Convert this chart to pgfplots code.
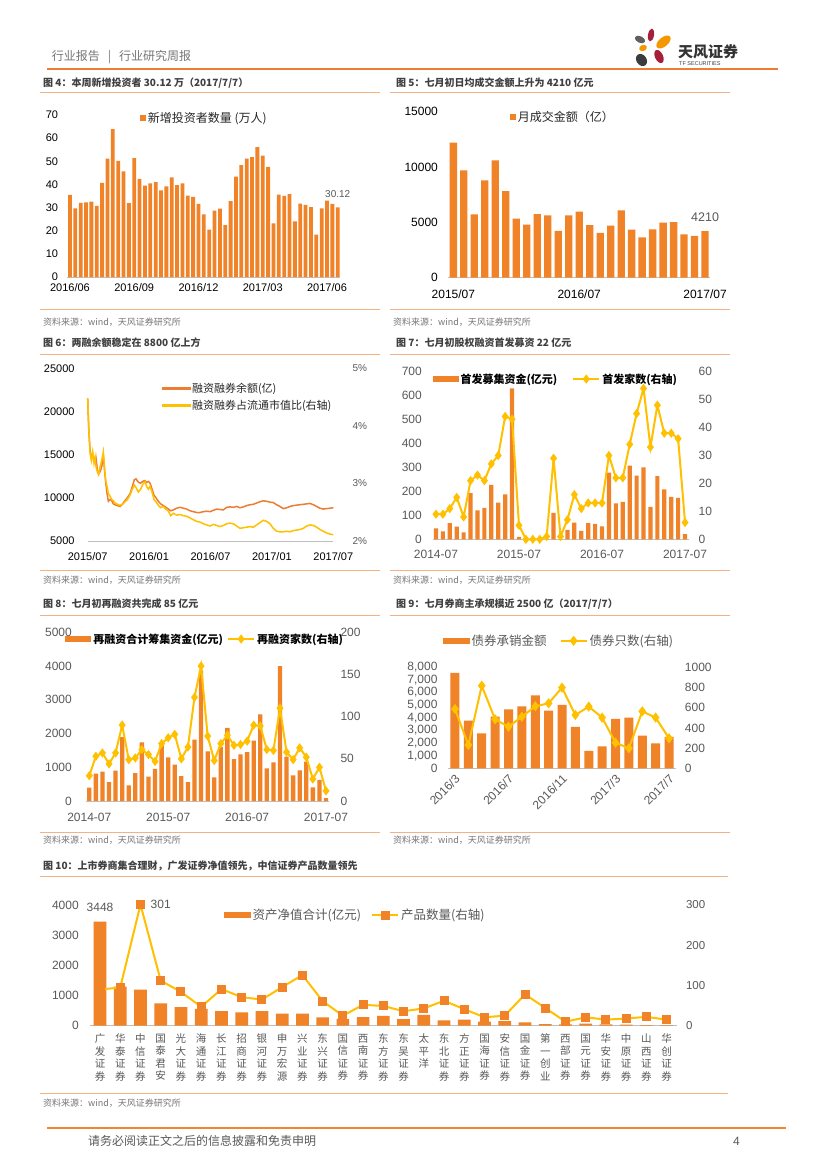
\documentclass[border=0pt]{standalone}
\usepackage{fontspec}
\setmainfont{Liberation Sans}
\newfontfamily\cjk{Noto Sans CJK SC}
\usepackage{pgfplots}
\pgfplotsset{compat=1.18}
\usepackage{pgfplotstable}

\definecolor{barorange}{RGB}{240,130,40}
\definecolor{lineorange}{RGB}{237,125,49}
\definecolor{lineyellow}{RGB}{255,192,0}
\definecolor{sepline}{RGB}{244,177,131}
\definecolor{hdrline}{RGB}{237,125,49}
\definecolor{txtgray}{RGB}{89,89,89}
\definecolor{srcgray}{RGB}{118,118,118}
\definecolor{ttlgray}{RGB}{64,64,64}
\definecolor{logored}{RGB}{165,30,60}
\definecolor{logoorange}{RGB}{243,152,0}
\definecolor{logogray}{RGB}{95,95,95}
\definecolor{logodark}{RGB}{60,60,60}

\newcommand\fs[1]{\fontsize{#1}{#1}\selectfont}

\pgfplotsset{
  panel/.style={
    scale only axis, anchor=south west, enlargelimits=false, clip=false,
    axis x line*=bottom, axis y line*=left,
    x axis line style={draw=black!25, line width=0.6pt},
    y axis line style={draw=none},
    tick style={draw=none},
    scaled ticks=false,
    /pgf/number format/assume math mode=true,
    /pgf/number format/1000 sep={},
    yticklabel style={anchor=east, inner sep=0pt},
    xticklabel style={anchor=north, inner sep=0pt},
  },
  rightpanel/.style={
    scale only axis, anchor=south west, enlargelimits=false, clip=false,
    hide x axis, axis y line*=right,
    y axis line style={draw=none},
    tick style={draw=none},
    scaled ticks=false,
    /pgf/number format/assume math mode=true,
    /pgf/number format/1000 sep={},
    yticklabel style={anchor=west, inner sep=0pt},
  },
  sqswatch/.style={legend image code/.code={\fill[barorange] (0pt,-3pt) rectangle (6pt,3pt);}},
  barswatch/.style={legend image code/.code={\fill[barorange] (0pt,-2.6pt) rectangle (26pt,2.6pt);}},
  barswatchb/.style={legend image code/.code={\fill[barorange] (0pt,-3.2pt) rectangle (27pt,3.2pt);}},
  bigline legend/.style={legend image code/.code={\draw[mark repeat=2,mark phase=2,##1] plot coordinates {(0pt,0pt) (13pt,0pt) (26pt,0pt)};}},
  orangeline legend/.style={legend image code/.code={\fill[lineorange] (0pt,-1pt) rectangle (28pt,1pt);}},
  yellowline legend/.style={legend image code/.code={\fill[lineyellow] (0pt,-1pt) rectangle (28pt,1pt);}},
  nolegendbox/.style={legend style={draw=none, fill=none, inner sep=0pt, outer sep=0pt, legend cell align=left}},
}

\pgfplotstableread{
m bal ratio
0.00 21500 4.48
0.10 18000 4.00
0.23 15500 3.52
0.36 14800 3.40
0.49 15000 3.55
0.62 14200 3.35
0.72 14000 3.45
0.81 14600 3.30
0.94 13300 3.20
1.07 12800 3.15
1.20 13000 3.28
1.37 13600 3.40
1.53 14800 3.55
1.66 13000 3.25
1.76 11800 3.05
1.89 10500 2.95
2.02 9600 2.82
2.18 9800 2.78
2.34 9700 2.72
2.51 9300 2.70
2.67 9200 2.66
2.90 9100 2.64
3.16 9000 2.62
3.42 9300 2.64
3.65 9700 2.68
3.88 10000 2.72
4.14 10500 2.80
4.36 11300 2.90
4.56 12100 2.97
4.72 12200 2.93
4.95 11800 2.85
5.18 11700 2.90
5.37 11900 2.98
5.60 12000 3.03
5.76 11800 2.95
5.93 11900 2.90
6.09 11700 2.95
6.29 11000 2.85
6.48 10300 2.72
6.68 10000 2.68
6.90 9600 2.62
7.13 9300 2.58
7.39 9100 2.60
7.65 8900 2.55
7.88 8700 2.52
8.11 8500 2.44
8.37 8600 2.48
8.69 8800 2.45
9.02 8900 2.46
9.35 8800 2.44
9.67 8700 2.43
10.00 8500 2.40
10.32 8400 2.37
10.65 8300 2.34
10.97 8300 2.33
11.30 8400 2.30
11.63 8450 2.28
11.95 8400 2.26
12.28 8550 2.29
12.60 8700 2.27
12.93 8650 2.25
13.25 8600 2.27
13.58 8900 2.30
13.90 8950 2.31
14.23 8900 2.30
14.56 9000 2.26
14.88 8850 2.22
15.21 8950 2.23
15.53 9100 2.24
15.86 9200 2.25
16.18 9250 2.24
16.51 9400 2.28
16.84 9550 2.32
17.16 9650 2.36
17.49 9600 2.34
17.81 9500 2.30
18.14 9450 2.22
18.46 9200 2.17
18.79 9000 2.16
19.12 8750 2.16
19.44 8850 2.17
19.77 9000 2.16
20.09 9100 2.18
20.42 9150 2.19
20.74 9200 2.20
21.07 9250 2.22
21.39 9300 2.26
21.72 9350 2.28
22.05 9200 2.27
22.37 9000 2.24
22.70 8800 2.20
23.02 8700 2.17
23.35 8750 2.14
23.67 8800 2.12
24.00 8850 2.11
}\margindata

\begin{document}
\begin{tikzpicture}
\fill[white] (0pt,0pt) rectangle (827pt,-1169pt);
\path[use as bounding box] (0pt,0pt) rectangle (827pt,-1169pt);

% ---------- header ----------
\node[anchor=west, inner sep=0pt, text=srcgray, font=\cjk\fs{12}] at (51.7pt,-56.7pt) {行业报告\hspace{8pt}|\hspace{8pt}行业研究周报};
\fill[logored]    (651pt,-35pt)   ellipse [x radius=3pt, y radius=6.5pt, rotate=-10];
\fill[logogray]   (640pt,-39.5pt) ellipse [x radius=5.5pt, y radius=3.3pt, rotate=-25];
\fill[logoorange] (663.5pt,-42pt) ellipse [x radius=8.5pt, y radius=4.6pt, rotate=40];
\fill[logoorange] (643pt,-48pt)   ellipse [x radius=4pt, y radius=3pt, rotate=20];
\fill[logodark]   (641.5pt,-60pt) ellipse [x radius=5pt, y radius=6.5pt, rotate=35];
\fill[logored]    (659pt,-56.5pt) ellipse [x radius=4pt, y radius=7pt, rotate=25];
\node[anchor=west, inner sep=0pt, text=black!80, font=\cjk\bfseries\fs{15}] at (678pt,-51.5pt) {天风证券};
\node[anchor=west, inner sep=0pt, text=black!75, font=\fs{5.5}] at (679pt,-63.3pt) {TF SECURITIES};
\draw[hdrline, line width=1.8pt] (47pt,-69pt) -- (778pt,-69pt);

% ---------- titles, separators, sources ----------
\foreach \x/\y/\t in {43/82.7/{图 4：本周新增投资者 30.12 万（2017/7/7）},
                      396/82.7/{图 5：七月初日均成交金额上升为 4210 亿元},
                      43/342.7/{图 6：两融余额稳定在 8800 亿上方},
                      396/342.7/{图 7：七月初股权融资首发募资 22 亿元},
                      43/604/{图 8：七月初再融资共完成 85 亿元},
                      396/604/{图 9：七月券商主承规模近 2500 亿（2017/7/7）},
                      43/866/{图 10：上市券商集合理财，广发证券净值领先，中信证券产品数量领先}}
  \node[anchor=west, inner sep=0pt, text=ttlgray, font=\cjk\bfseries\fs{10}] at (\x pt,-\y pt) {\t};
\foreach \a/\b/\y in {40/380/92, 390/730/92, 40/380/309, 390/730/309,
                      40/380/354, 390/730/354, 40/380/570.7, 390/730/570.7,
                      40/380/615, 390/730/615, 40/380/832.3, 390/730/832.3,
                      40/728/876.7, 40/728/1093.3}
  \draw[sepline, line width=0.9pt] (\a pt,-\y pt) -- (\b pt,-\y pt);
\foreach \x/\y in {43/322, 393/322, 43/580, 393/580, 43/840, 393/840, 43/1103}
  \node[anchor=west, inner sep=0pt, text=srcgray, font=\cjk\fs{9}] at (\x pt,-\y pt) {资料来源：wind，天风证券研究所};

% ---------- footer ----------
\draw[lineorange!85!lineyellow, line width=1.8pt] (47pt,-1128pt) -- (786pt,-1128pt);
\node[anchor=west, inner sep=0pt, text=txtgray, font=\cjk\fs{12}] at (88pt,-1141pt) {请务必阅读正文之后的信息披露和免责申明};
\node[anchor=west, inner sep=0pt, text=txtgray, font=\fs{12}] at (733pt,-1141pt) {4};

% ---------- Figure 4 ----------
\begin{axis}[panel, at={(67.3pt,-277pt)}, width=273.1pt, height=162pt,
  xmin=-0.5, xmax=50.5, ymin=0, ymax=70, ytick={0,10,...,70},
  xtick={0,12,24,36,48}, xticklabels={2016/06,2016/09,2016/12,2017/03,2017/06},
  tick label style={font=\fs{11}, text=black},
  yticklabel style={xshift=-9pt}, xticklabel style={yshift=-6pt},
  nolegendbox, legend style={at={(0.266,0.981)}, anchor=west, font=\cjk\fs{12}, text=black!85}]
\addplot[ybar, bar width=3.8pt, fill=barorange, draw=none, sqswatch] coordinates {
(0,35.5) (1,29.7) (2,32) (3,32.3) (4,32.6) (5,30.7) (6,40.7) (7,51.2) (8,63.9) (9,50.2)
(10,45.6) (11,31.9) (12,51.4) (13,42.4) (14,39.5) (15,40.5) (16,41) (17,37.4) (18,39.2) (19,43)
(20,39.7) (21,40.5) (22,35.2) (23,34.6) (24,31.6) (25,27.1) (26,20.5) (27,28.7) (28,29.6) (29,22.4)
(30,32.8) (31,43.4) (32,48.3) (33,51.1) (34,51.8) (35,56.1) (36,52.4) (37,47.6) (38,23.2) (39,35.6)
(40,35.1) (41,35.8) (42,24) (43,31.7) (44,31.2) (45,30.2) (46,18.3) (47,29.7) (48,33) (49,31.6)
(50,30.12)};
\addlegendentry{新增投资者数量 (万人)}
\node[anchor=south, inner sep=0pt, font=\fs{10}, text=txtgray, yshift=10pt] at (axis cs:50,30.12) {30.12};
\end{axis}

% ---------- Figure 5 ----------
\begin{axis}[panel, at={(448.1pt,-277.7pt)}, width=262.2pt, height=166pt,
  xmin=-0.5, xmax=24.5, ymin=0, ymax=15000, ytick={0,5000,10000,15000},
  xtick={0,12,24}, xticklabels={2015/07,2016/07,2017/07},
  tick label style={font=\fs{12}, text=black},
  yticklabel style={xshift=-10pt}, xticklabel style={yshift=-12pt},
  nolegendbox, legend style={at={(0.236,0.968)}, anchor=west, font=\cjk\fs{12}, text=black!85}]
\addplot[ybar, bar width=7.3pt, fill=barorange, draw=none, sqswatch] coordinates {
(0,12200) (1,9700) (2,5720) (3,8800) (4,10600) (5,7830) (6,5330) (7,4790) (8,5750) (9,5630)
(10,4220) (11,5630) (12,5960) (13,4760) (14,4040) (15,4700) (16,6080) (17,4340) (18,3640) (19,4370)
(20,4970) (21,5030) (22,3920) (23,3770) (24,4210)};
\addlegendentry{月成交金额（亿）}
\node[anchor=south, inner sep=0pt, font=\fs{12.5}, text=txtgray, yshift=9pt] at (axis cs:24,4210) {4210};
\end{axis}

% ---------- Figure 6 ----------
\begin{axis}[panel, at={(87.7pt,-541pt)}, width=245.6pt, height=172.7pt,
  xmin=0, xmax=24, ymin=5000, ymax=25000, ytick={5000,10000,...,25000},
  xtick={0,6,12,18,24}, xticklabels={2015/07,2016/01,2016/07,2017/01,2017/07},
  tick label style={font=\fs{11}, text=black},
  yticklabel style={xshift=-13pt}, xticklabel style={yshift=-11pt},
  nolegendbox, legend style={at={(0.301,0.926)}, anchor=north west, font=\cjk\fs{11}, text=black!85, row sep=2pt}]
\addplot[lineorange, line width=1.5pt, forget plot] table[x=m, y=bal] {\margindata};
\addlegendimage{orangeline legend}
\addlegendentry{融资融券余额(亿)}
\addlegendimage{yellowline legend}
\addlegendentry{融资融券占流通市值比(右轴)}
\end{axis}
\begin{axis}[rightpanel, at={(87.7pt,-541pt)}, width=245.6pt, height=172.7pt,
  xmin=0, xmax=24, ymin=2, ymax=5, ytick={2,3,4,5}, yticklabels={2\%,3\%,4\%,5\%},
  tick label style={font=\fs{10}, text=txtgray}, yticklabel style={xshift=19pt}]
\addplot[lineyellow, line width=1.5pt] table[x=m, y=ratio] {\margindata};
\end{axis}

% ---------- Figure 7 ----------
\begin{axis}[panel, at={(432.5pt,-539.3pt)}, width=256pt, height=167.6pt,
  xmin=-0.5, xmax=36.5, ymin=0, ymax=700, ytick={0,100,...,700},
  xtick={0,12,24,36}, xticklabels={2014-07,2015-07,2016-07,2017-07},
  tick label style={font=\fs{12}, text=txtgray},
  yticklabel style={xshift=-10.5pt}, xticklabel style={yshift=-11pt},
  nolegendbox, legend columns=2,
  legend style={at={(0.0,0.956)}, anchor=west, font=\cjk\bfseries\fs{11}, text=black,
    /tikz/every even column/.append style={column sep=13pt}}]
\addplot[ybar, bar width=4.2pt, fill=barorange, draw=none, barswatch] coordinates {
(0,46) (1,33) (2,68) (3,53) (4,29) (5,193) (6,121) (7,131) (8,227) (9,153)
(10,188) (11,630) (12,10) (13,0) (14,0) (15,0) (16,0) (17,110) (18,0) (19,39)
(20,70) (21,35) (22,68) (23,64) (24,54) (25,278) (26,150) (27,156) (28,308) (29,266)
(30,300) (31,135) (32,264) (33,209) (34,177) (35,173) (36,22)};
\addlegendentry{首发募集资金(亿元)}
\addlegendimage{lineyellow, line width=2pt, mark=diamond*, mark size=3pt, mark options={fill=lineyellow}, bigline legend}
\addlegendentry{首发家数(右轴)}
\end{axis}
\begin{axis}[rightpanel, at={(432.5pt,-539.3pt)}, width=256pt, height=167.6pt,
  xmin=-0.5, xmax=36.5, ymin=0, ymax=60, ytick={0,10,...,60},
  tick label style={font=\fs{12}, text=txtgray}, yticklabel style={xshift=10pt}]
\addplot[lineyellow, line width=2pt, mark=diamond*, mark size=3pt, mark options={fill=lineyellow}] coordinates {
(0,9) (1,9) (2,11) (3,15) (4,8) (5,21) (6,23) (7,21) (8,27) (9,30)
(10,44) (11,43) (12,5) (13,0) (14,0) (15,0) (16,1) (17,29) (18,1) (19,7)
(20,16) (21,11) (22,13) (23,13) (24,13) (25,30) (26,22) (27,22) (28,34) (29,45)
(30,54) (31,33) (32,48) (33,38) (34,38) (35,36) (36,6)};
\end{axis}

% ---------- Figure 8 ----------
\begin{axis}[panel, at={(86pt,-801pt)}, width=243.3pt, height=168.7pt,
  xmin=-0.5, xmax=36.5, ymin=0, ymax=5000, ytick={0,1000,...,5000},
  xtick={0,12,24,36}, xticklabels={2014-07,2015-07,2016-07,2017-07},
  tick label style={font=\fs{12}, text=txtgray},
  yticklabel style={xshift=-14pt}, xticklabel style={yshift=-11.5pt},
  nolegendbox, legend columns=2,
  legend style={at={(-0.085,0.960)}, anchor=west, font=\cjk\bfseries\fs{11}, text=black,
    /tikz/every even column/.append style={column sep=2pt}}]
\addplot[ybar, bar width=4.3pt, fill=barorange, draw=none, barswatch] coordinates {
(0,400) (1,810) (2,870) (3,563) (4,900) (5,1897) (6,464) (7,830) (8,1739) (9,721)
(10,949) (11,1650) (12,1294) (13,1077) (14,741) (15,563) (16,1818) (17,3873) (18,1472) (19,702)
(20,1600) (21,2164) (22,1245) (23,1383) (24,1452) (25,1788) (26,2569) (27,968) (28,1146) (29,4000)
(30,1314) (31,761) (32,909) (33,1166) (34,405) (35,623) (36,85)};
\addlegendentry{再融资合计筹集资金(亿元)}
\addlegendimage{lineyellow, line width=2pt, mark=diamond*, mark size=3pt, mark options={fill=lineyellow}, bigline legend}
\addlegendentry{再融资家数(右轴)}
\end{axis}
\begin{axis}[rightpanel, at={(86pt,-801pt)}, width=243.3pt, height=168.7pt,
  xmin=-0.5, xmax=36.5, ymin=0, ymax=200, ytick={0,50,...,200},
  tick label style={font=\fs{12}, text=txtgray}, yticklabel style={xshift=11pt}]
\addplot[lineyellow, line width=2pt, mark=diamond*, mark size=3pt, mark options={fill=lineyellow}] coordinates {
(0,30) (1,53) (2,57) (3,44) (4,57) (5,90) (6,49) (7,51) (8,61) (9,55)
(10,47) (11,68) (12,75) (13,79) (14,50) (15,64) (16,123) (17,160) (18,77) (19,48)
(20,68) (21,78) (22,66) (23,67) (24,71) (25,90) (26,89) (27,61) (28,60) (29,110)
(30,58) (31,49) (32,63) (33,52) (34,26) (35,40) (36,12)};
\end{axis}

% ---------- Figure 9 ----------
\begin{axis}[panel, at={(448.3pt,-768.3pt)}, width=227.4pt, height=101pt,
  xmin=-0.5, xmax=16.5, ymin=0, ymax=8000, ytick={0,1000,...,8000},
  /pgf/number format/1000 sep={,},
  xtick={0,4,8,12,16}, xticklabels={2016/3,2016/7,2016/11,2017/3,2017/7},
  tick label style={font=\fs{12}, text=txtgray},
  yticklabel style={xshift=-10.6pt},
  xticklabel style={rotate=45, anchor=east, yshift=-8pt, xshift=-4pt},
  nolegendbox, legend columns=2,
  legend style={at={(-0.025,1.263)}, anchor=west, font=\cjk\fs{12.5}, text=txtgray,
    /tikz/every even column/.append style={column sep=11pt}}]
\addplot[ybar, bar width=9pt, fill=barorange, draw=none, barswatchb] coordinates {
(0,7550) (1,3775) (2,2772) (3,4092) (4,4673) (5,4910) (6,5782) (7,4567) (8,5016) (9,3274)
(10,1373) (11,1742) (12,3907) (13,4013) (14,2587) (15,1980) (16,2482)};
\addlegendentry{债券承销金额}
\addlegendimage{lineyellow, line width=2pt, mark=diamond*, mark size=3.5pt, mark options={fill=lineyellow}, bigline legend}
\addlegendentry{债券只数(右轴)}
\end{axis}
\begin{axis}[rightpanel, at={(448.3pt,-768.3pt)}, width=227.4pt, height=101pt,
  xmin=-0.5, xmax=16.5, ymin=0, ymax=1000, ytick={0,200,...,1000},
  tick label style={font=\fs{12}, text=txtgray}, yticklabel style={xshift=9pt}]
\addplot[lineyellow, line width=2pt, mark=diamond*, mark size=3.5pt, mark options={fill=lineyellow}] coordinates {
(0,587) (1,231) (2,818) (3,485) (4,412) (5,511) (6,614) (7,644) (8,799) (9,528)
(10,611) (11,502) (12,254) (13,198) (14,564) (15,502) (16,297)};
\end{axis}

% ---------- Figure 10 ----------
\begin{axis}[panel, at={(89.9pt,-1025.7pt)}, width=586.9pt, height=120.7pt,
  xmin=-0.5, xmax=28.5, ymin=0, ymax=4000, ytick={0,1000,...,4000},
  xtick={0,1,...,28},
  xticklabels={广\\发\\证\\券, 华\\泰\\证\\券, 中\\信\\证\\券, 国\\泰\\君\\安, 光\\大\\证\\券,
    海\\通\\证\\券, 长\\江\\证\\券, 招\\商\\证\\券, 银\\河\\证\\券, 申\\万\\宏\\源,
    兴\\业\\证\\券, 东\\兴\\证\\券, 国\\信\\证\\券, 西\\南\\证\\券, 东\\方\\证\\券,
    东\\吴\\证\\券, 太\\平\\洋, 东\\北\\证\\券, 方\\正\\证\\券, 国\\海\\证\\券,
    安\\信\\证\\券, 国\\金\\证\\券, 第\\一\\创\\业, 西\\部\\证\\券, 国\\元\\证\\券,
    华\\安\\证\\券, 中\\原\\证\\券, 山\\西\\证\\券, 华\\创\\证\\券},
  yticklabel style={font=\fs{12}, text=txtgray, xshift=-11pt},
  xticklabel style={font=\cjk\fontsize{10.5}{12.5}\selectfont, text=txtgray, align=center, yshift=-8pt},
  nolegendbox, legend columns=2,
  legend style={at={(0.228,0.917)}, anchor=west, font=\cjk\fs{12.5}, text=txtgray,
    /tikz/every even column/.append style={column sep=8pt}}]
\addplot[ybar, bar width=12.7pt, fill=barorange, draw=none, barswatchb] coordinates {
(0,3448) (1,1293) (2,1193) (3,740) (4,620) (5,560) (6,486) (7,442) (8,480) (9,400)
(10,400) (11,276) (12,230) (13,287) (14,330) (15,220) (16,360) (17,177) (18,199) (19,133)
(20,155) (21,110) (22,55) (23,44) (24,66) (25,44) (26,33) (27,22) (28,22)};
\addlegendentry{资产净值合计(亿元)}
\addlegendimage{lineyellow, line width=2pt, mark=square*, mark size=3.5pt, mark options={fill=barorange, draw=barorange}, bigline legend}
\addlegendentry{产品数量(右轴)}
\node[anchor=south, inner sep=0pt, font=\fs{12}, text=txtgray, yshift=10pt] at (axis cs:0,3448) {3448};
\end{axis}
\begin{axis}[rightpanel, at={(89.9pt,-1025.7pt)}, width=586.9pt, height=120.7pt,
  xmin=-0.5, xmax=28.5, ymin=0, ymax=300, ytick={0,100,200,300},
  tick label style={font=\fs{11.5}, text=txtgray}, yticklabel style={xshift=9pt}]
\addplot[lineyellow, line width=2pt, mark=square*, mark size=3.5pt, mark options={fill=barorange, draw=barorange}] coordinates {
(0,90) (1,95) (2,301) (3,112) (4,84) (5,47) (6,91) (7,71) (8,65) (9,96)
(10,126) (11,61) (12,25) (13,52) (14,49) (15,36) (16,43) (17,62) (18,41) (19,21)
(20,25) (21,78) (22,44) (23,10) (24,21) (25,15) (26,18) (27,22) (28,15)};
\node[anchor=west, inner sep=0pt, font=\fs{12}, text=txtgray, xshift=10pt] at (axis cs:2,301) {301};
\end{axis}
\end{tikzpicture}
\end{document}
